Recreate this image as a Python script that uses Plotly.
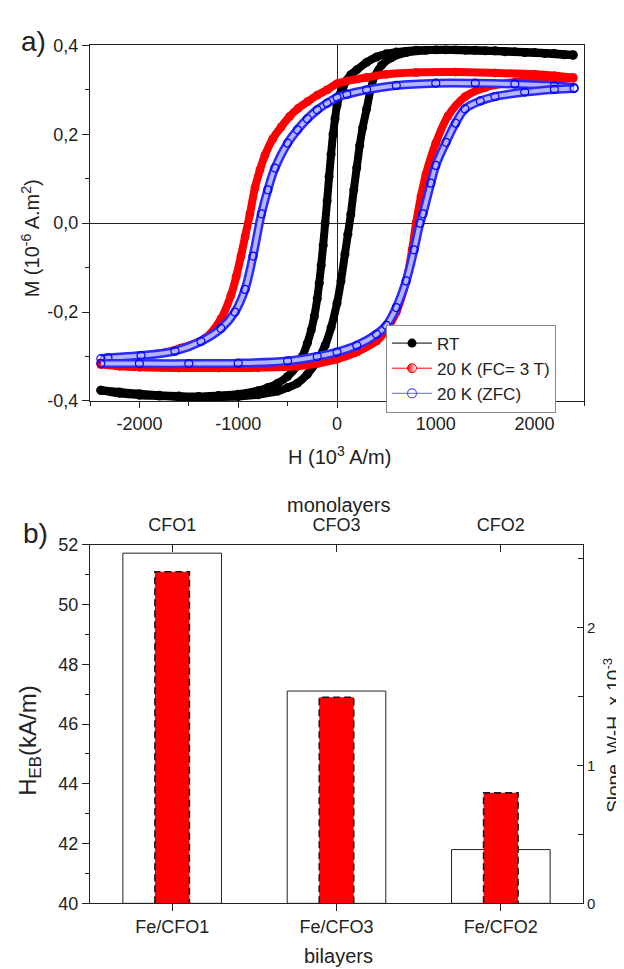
import plotly.graph_objects as go

# ---------------- panel a) : hysteresis loops ----------------
# RT (black) : descending branch (+H -> -H) and ascending branch (-H -> +H)
rt_desc_h = [2390, 2200, 2000, 1800, 1600, 1400, 1200, 1000, 800, 600, 500, 400, 300, 200, 140, 100,
             60, 30, 0, -20, -40, -60, -80, -100, -120, -140, -160, -180, -200, -230, -260, -300,
             -350, -400, -500, -600, -700, -800, -1000, -1200, -1400, -1600, -1800, -2000, -2200, -2390]
rt_desc_m = [0.379, 0.382, 0.384, 0.386, 0.388, 0.389, 0.390, 0.390, 0.389, 0.385, 0.381, 0.374, 0.362,
             0.345, 0.334, 0.322, 0.305, 0.290, 0.265, 0.235, 0.200, 0.155, 0.105, 0.050, 0.000, -0.050,
             -0.095, -0.135, -0.170, -0.210, -0.240, -0.270, -0.300, -0.320, -0.345, -0.360, -0.370,
             -0.377, -0.385, -0.388, -0.390, -0.389, -0.387, -0.384, -0.380, -0.376]
rt_asc_h = [-2390, -2200, -2000, -1800, -1600, -1400, -1200, -1000, -800, -600, -500, -400, -300, -200,
            -120, -60, 0, 40, 80, 110, 140, 170, 200, 230, 260, 300, 340, 380, 450, 550, 700, 900, 1100,
            1300, 1500, 1700, 1900, 2100, 2300, 2390]
rt_asc_m = [-0.376, -0.383, -0.387, -0.389, -0.391, -0.391, -0.391, -0.390, -0.386, -0.378, -0.370,
            -0.360, -0.340, -0.310, -0.275, -0.235, -0.180, -0.130, -0.070, -0.025, 0.020, 0.075, 0.125,
            0.175, 0.215, 0.257, 0.300, 0.330, 0.355, 0.372, 0.384, 0.389, 0.390, 0.389, 0.388, 0.386,
            0.384, 0.382, 0.379, 0.378]

# 20 K, field cooled 3 T (red)
fc_desc_h = [2390, 2200, 2000, 1600, 1200, 800, 500, 300, 100, 0, -100, -200, -294, -395, -480, -567,
             -650, -729, -780, -830, -881, -930, -972, -1020, -1073, -1174, -1336, -1579, -1812, -2100,
             -2318, -2390]
fc_desc_m = [0.328, 0.332, 0.335, 0.338, 0.340, 0.339, 0.335, 0.328, 0.320, 0.314, 0.300, 0.288, 0.274,
             0.258, 0.240, 0.216, 0.190, 0.153, 0.120, 0.080, 0.021, -0.030, -0.074, -0.120, -0.162,
             -0.215, -0.259, -0.281, -0.294, -0.303, -0.310, -0.314]
fc_asc_h = [-2390, -2200, -2000, -1600, -1200, -800, -400, -200, 0, 200, 400, 500, 600, 700, 760, 800,
            850, 900, 1000, 1123, 1300, 1497, 1800, 2100, 2390]
fc_asc_m = [-0.318, -0.322, -0.324, -0.326, -0.326, -0.325, -0.322, -0.316, -0.306, -0.290, -0.265,
            -0.240, -0.200, -0.130, -0.060, 0.000, 0.060, 0.110, 0.180, 0.241, 0.285, 0.305, 0.318,
            0.323, 0.326]

# 20 K, zero field cooled (blue)
zfc_desc_h = [2400, 2200, 1800, 1400, 1000, 600, 300, 100, 0, -100, -200, -300, -400, -500, -628, -700,
              -765, -850, -931, -1033, -1174, -1377, -1640, -1984, -2318, -2390]
zfc_desc_m = [0.305, 0.309, 0.313, 0.315, 0.315, 0.310, 0.300, 0.290, 0.283, 0.270, 0.255, 0.235, 0.210,
              0.180, 0.124, 0.075, 0.021, -0.074, -0.149, -0.200, -0.237, -0.266, -0.288, -0.298,
              -0.303, -0.305]
zfc_asc_h = [-2390, -2000, -1500, -1000, -500, -200, 0, 200, 400, 500, 600, 700, 780, 840, 870, 950,
             1000, 1103, 1200, 1295, 1450, 1599, 1900, 2200, 2400]
zfc_asc_m = [-0.316, -0.316, -0.316, -0.315, -0.310, -0.300, -0.290, -0.275, -0.250, -0.230, -0.190,
             -0.130, -0.060, 0.000, 0.021, 0.090, 0.130, 0.182, 0.225, 0.257, 0.275, 0.285, 0.295,
             0.301, 0.303]

legend_names = ["RT", "20 K (FC= 3 T)", "20 K (ZFC)"]

h_ticks = [-2000, -1000, 0, 1000, 2000]
h_ticktext = ["-2000", "-1000", "0", "1000", "2000"]
m_ticks = [-0.4, -0.2, 0.0, 0.2, 0.4]
m_ticktext = ["-0,4", "-0,2", "0,0", "0,2", "0,4"]

# ---------------- panel b) : bars ----------------
bilayers = ["Fe/CFO1", "Fe/CFO3", "Fe/CFO2"]
monolayers = ["CFO1", "CFO3", "CFO2"]
heb_bilayers = [51.1, 46.9, 43.7]          # kA/m (red bars, left axis)
slope_monolayers = [2.54, 1.54, 0.39]      # x 1e-3 (white bars, right axis)

heb_ticks = [40, 42, 44, 46, 48, 50, 52]
slope_ticks = [0, 1, 2]

FONT = "Liberation Sans, Arial, sans-serif"
INK = "#222222"
W, H = 624, 969


def px(x):
    return x / W


def py(y):
    return 1 - y / H


fig = go.Figure()

# ---- loops ----
series = [
    (rt_desc_h, rt_desc_m, rt_asc_h, rt_asc_m, "black"),
    (fc_desc_h, fc_desc_m, fc_asc_h, fc_asc_m, "red"),
    (zfc_desc_h, zfc_desc_m, zfc_asc_h, zfc_asc_m, "blue"),
]
for hd, md, ha, ma, kind in series:
    for hh, mm in ((hd, md), (ha, ma)):
        if kind == "black":
            fig.add_trace(go.Scatter(x=hh, y=mm, mode="lines+markers", showlegend=False,
                                     line=dict(color="black", width=8, shape="spline"),
                                     marker=dict(symbol="circle", size=9, color="black"),
                                     xaxis="x", yaxis="y", hoverinfo="skip"))
        elif kind == "red":
            fig.add_trace(go.Scatter(x=hh, y=mm, mode="lines+markers", showlegend=False,
                                     line=dict(color="#ff0000", width=8, shape="spline"),
                                     marker=dict(symbol="circle", size=8, color="#ff0000",
                                                 line=dict(color="#ff0000", width=1)),
                                     xaxis="x", yaxis="y", hoverinfo="skip"))
        else:
            # band of overlapping open rings: blue edge + pale core + ring markers
            fig.add_trace(go.Scatter(x=hh, y=mm, mode="lines", showlegend=False,
                                     line=dict(color="#2a2aff", width=9, shape="spline"),
                                     xaxis="x", yaxis="y", hoverinfo="skip"))
            fig.add_trace(go.Scatter(x=hh, y=mm, mode="lines+markers", showlegend=False,
                                     line=dict(color="#b4b4ff", width=4, shape="spline"),
                                     marker=dict(symbol="circle-open", size=8, color="#0000ff",
                                                 line=dict(color="#0000ff", width=1.2)),
                                     xaxis="x", yaxis="y", hoverinfo="skip"))

# legend entries (no data points)
fig.add_trace(go.Scatter(x=[None], y=[None], name=legend_names[0], mode="lines+markers",
                         line=dict(color="black", width=1),
                         marker=dict(symbol="circle", size=9, color="black"),
                         xaxis="x", yaxis="y"))
fig.add_trace(go.Scatter(x=[None], y=[None], name=legend_names[1], mode="lines+markers",
                         line=dict(color="#ff0000", width=1),
                         marker=dict(symbol="circle", size=9, color="#ff0000",
                                     gradient=dict(type="horizontal", color="white"),
                                     line=dict(color="#ff0000", width=1)),
                         xaxis="x", yaxis="y"))
fig.add_trace(go.Scatter(x=[None], y=[None], name=legend_names[2], mode="lines+markers",
                         line=dict(color="#6060ff", width=1),
                         marker=dict(symbol="circle-open", size=9, color="#5050ff",
                                     line=dict(color="#5050ff", width=1.2)),
                         xaxis="x", yaxis="y"))

# ---- bars ----
xpos = list(range(len(bilayers)))
white_w = 0.6
red_w = 0.21
fig.add_trace(go.Bar(x=xpos, y=slope_monolayers, width=white_w, showlegend=False,
                     marker=dict(color="white", line=dict(color=INK, width=1)),
                     xaxis="x3", yaxis="y3", hoverinfo="skip"))
fig.add_trace(go.Bar(x=xpos, y=heb_bilayers, width=red_w, showlegend=False,
                     marker=dict(color="#ff0000", line=dict(width=0)),
                     xaxis="x4", yaxis="y4", hoverinfo="skip"))
# dashed outline of the red bars
for i, v in zip(xpos, heb_bilayers):
    fig.add_trace(go.Scatter(x=[i - red_w / 2, i - red_w / 2, i + red_w / 2, i + red_w / 2],
                             y=[heb_ticks[0], v, v, heb_ticks[0]], mode="lines", showlegend=False,
                             line=dict(color="#1a1a1a", width=1.6, dash="7px,4px"),
                             xaxis="x4", yaxis="y4", hoverinfo="skip"))

axis_common = dict(showgrid=False, showline=True, linecolor=INK, linewidth=1,
                   tickcolor=INK, tickwidth=1)
tf18 = dict(family=FONT, size=18, color=INK)

top_dom_x = [px(82), px(576)]
top_dom_y = [py(391), py(28)]
bot_dom_x = [px(82), px(575)]
bot_dom_y = [py(904), py(538)]

fig.update_layout(
    width=W, height=H, autosize=False,
    margin=dict(l=0, r=0, t=0, b=0),
    paper_bgcolor="white", plot_bgcolor="white",
    font=dict(family=FONT, size=18, color=INK),
    xaxis=dict(domain=top_dom_x, anchor="y", range=[-2500, 2500], tickmode="array",
               tickvals=h_ticks, ticktext=h_ticktext, ticks="outside", ticklen=6, mirror=True,
               zeroline=True, zerolinecolor=INK, zerolinewidth=1, tickfont=tf18,
               minor=dict(ticks="outside", ticklen=4, tickmode="linear", tick0=-2500, dtick=500,
                          tickcolor=INK),
               **axis_common),
    yaxis=dict(domain=top_dom_y, anchor="x", range=[-0.4, 0.4], tickmode="array",
               tickvals=m_ticks, ticktext=m_ticktext, ticks="outside", ticklen=7, mirror=True,
               zeroline=True, zerolinecolor=INK, zerolinewidth=1, tickfont=tf18,
               minor=dict(ticks="outside", ticklen=4, tickmode="linear", tick0=-0.4, dtick=0.1,
                          tickcolor=INK),
               **axis_common),
    xaxis3=dict(domain=bot_dom_x, anchor="y3", side="top", range=[-0.5, 2.5], tickmode="array",
                tickvals=xpos, ticktext=monolayers, ticks="inside", ticklen=7, zeroline=False,
                ticklabelstandoff=6, tickfont=tf18, **axis_common),
    yaxis3=dict(domain=bot_dom_y, anchor="x3", side="right", range=[0, 2.6], tickmode="array",
                tickvals=slope_ticks, ticktext=[str(t) for t in slope_ticks], ticks="inside",
                ticklen=6, zeroline=False,
                minor=dict(ticks="inside", ticklen=5, tickmode="linear", tick0=0, dtick=0.5,
                           tickcolor=INK),
                tickfont=dict(family=FONT, size=15, color=INK), **axis_common),
    xaxis4=dict(overlaying="x3", anchor="y4", side="bottom", range=[-0.5, 2.5], tickmode="array",
                tickvals=xpos, ticktext=bilayers, ticks="outside", ticklen=7, zeroline=False,
                tickfont=tf18, **axis_common),
    yaxis4=dict(overlaying="y3", anchor="x4", side="left", range=[40, 52], tickmode="array",
                tickvals=heb_ticks, ticktext=[str(t) for t in heb_ticks], ticks="outside",
                ticklen=7, zeroline=False, tickfont=tf18,
                minor=dict(ticks="outside", ticklen=4, tickmode="linear", tick0=40, dtick=1,
                           tickcolor=INK),
                **axis_common),
    barmode="overlay",
    legend=dict(x=px(378), y=py(313), xanchor="left", yanchor="top", bgcolor="white",
                bordercolor="#888888", borderwidth=1, font=dict(family=FONT, size=17, color=INK),
                tracegroupgap=0, itemwidth=40),
)

ann = [
    dict(text="a)", x=px(25), y=py(24), size=28, angle=0),
    dict(text="b)", x=px(27), y=py(526), size=28, angle=0),
    dict(text="M (10<sup>-6</sup> A.m<sup>2</sup>)", x=px(22), y=py(225), size=20, angle=-90),
    dict(text="H (10<sup>3</sup> A/m)", x=px(331), y=py(447), size=20, angle=0),
    dict(text="monolayers", x=px(330), y=py(497), size=20, angle=0),
    dict(text="H<sub>EB</sub>(kA/m)", x=px(22), y=py(738), size=24, angle=-90),
    dict(text="Slope  W-H  x 10<sup>-3</sup>", x=px(604), y=py(733), size=19, angle=-90),
    dict(text="bilayers", x=px(330), y=py(958), size=20, angle=0),
]
for a in ann:
    fig.add_annotation(text=a["text"], x=a["x"], y=a["y"], xref="paper", yref="paper",
                       xanchor="center", yanchor="middle", showarrow=False, textangle=a["angle"],
                       font=dict(family=FONT, size=a["size"], color=INK))

fig.write_html("out.html")
